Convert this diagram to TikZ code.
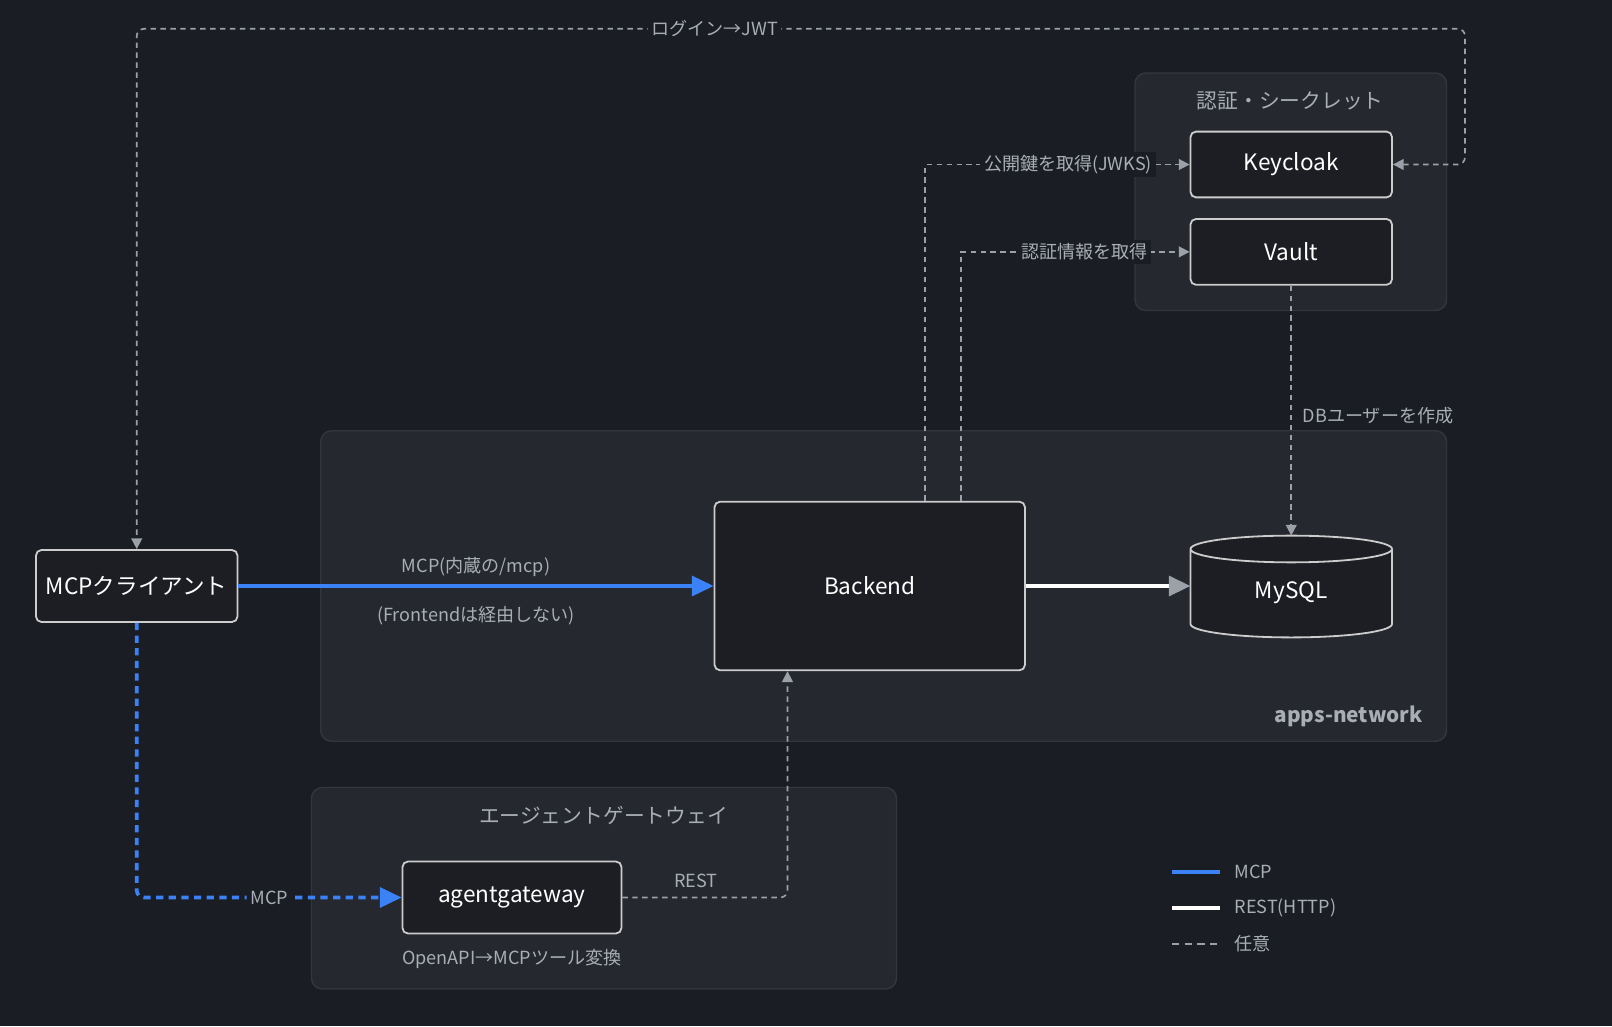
\documentclass[tikz,border=0pt]{standalone}
\usepackage{fontspec}
\setmainfont{Noto Sans CJK JP}
\usetikzlibrary{arrows.meta,positioning}
\definecolor{bgc}{HTML}{1A1D24}
\definecolor{panelc}{HTML}{25282F}
\definecolor{panelb}{HTML}{33363D}
\definecolor{nodec}{HTML}{1C1E24}
\definecolor{txtc}{HTML}{A9ADB5}
\definecolor{mcpc}{HTML}{3B82F6}
\definecolor{dashc}{HTML}{9CA0A8}
\tikzset{
  panel/.style={draw=panelb, fill=panelc, rounded corners=6pt, line width=0.8pt},
  box/.style={draw=white!80!black, fill=nodec, rounded corners=3pt, line width=1pt, text=white, font=\fontsize{12.5}{14}\selectfont},
  lbl/.style={text=txtc, font=\fontsize{10}{12}\selectfont, inner sep=2pt},
  ttl/.style={text=txtc, font=\fontsize{11.5}{13}\selectfont},
  opt/.style={draw=dashc, dash pattern=on 3pt off 2.5pt, line width=0.9pt, -{Triangle[length=6pt,width=6pt]}},
  mcp/.style={draw=mcpc, line width=2pt, -{Triangle[length=12pt,width=11pt]}},
}
\begin{document}
\begin{tikzpicture}[x=0.02cm, y=-0.02cm]
  \fill[bgc] (0,0) rectangle (1568,998);
  \useasboundingbox (0,0) rectangle (1568,998);
  % panels
  \draw[panel] (312,419) rectangle (1407,721);
  \node[ttl, font=\fontsize{11.5}{13}\selectfont\bfseries, anchor=east] (appsnet) at (1390,697) {apps-network};
  \draw[panel] (1104,71) rectangle (1407,302);
  \node[ttl] (authttl) at (1255,98) {認証・シークレット};
  \draw[panel] (303,766) rectangle (872,962);
  \node[ttl] (agwttl) at (587,793) {エージェントゲートウェイ};
  % nodes
  \node[box, minimum width=3.92cm, minimum height=1.4cm] (client) at (133,570) {MCPクライアント};
  \node[box, minimum width=6.04cm, minimum height=3.28cm] (backend) at (846,570) {Backend};
  \node[box, minimum width=3.92cm, minimum height=1.28cm] (keycloak) at (1256,160) {Keycloak};
  \node[box, minimum width=3.92cm, minimum height=1.28cm] (vault) at (1256,245) {Vault};
  \node[box, minimum width=4.26cm, minimum height=1.4cm] (agw) at (498,873) {agentgateway};
  \node[lbl] (agwnote) at (498,933) {OpenAPI→MCPツール変換};
  % MySQL cylinder
  \draw[white!80!black, fill=nodec, line width=1pt]
    (1158,534) -- (1158,607) arc[start angle=180, end angle=0, x radius=98, y radius=13]
    -- (1354,534) arc[start angle=0, end angle=-180, x radius=98, y radius=13]
    arc[start angle=180, end angle=0, x radius=98, y radius=13];
  \node[minimum width=3.92cm, minimum height=1.98cm] (mysql) at (1256,570) {};
  \node[text=white, font=\fontsize{12.5}{14}\selectfont] (mysqltxt) at (1256,577) {MySQL};
  % edges
  \draw[mcp] (client) -- (backend)
    node[lbl, midway, above=2pt] {MCP(内蔵の/mcp)}
    node[lbl, midway, below=8pt] {(Frontendは経由しない)};
  \draw[white, line width=2pt, -{Triangle[length=12pt,width=11pt,fill=dashc,color=dashc]}] (backend) -- (1158,570);
  \draw[opt] (vault) -- (1256,521) node[lbl, pos=0.52, right=4pt] {DBユーザーを作成};
  \draw[opt] (backend.north -| 900,0) |- (keycloak.west) node[lbl, pos=0.77, fill=bgc] {公開鍵を取得(JWKS)};
  \draw[opt] (backend.north -| 935,0) |- (vault.west) node[lbl, pos=0.77, fill=bgc] {認証情報を取得};
  \draw[opt, {Triangle[length=6pt,width=6pt]}-{Triangle[length=6pt,width=6pt]}, rounded corners=4pt]
    (keycloak.east) -- (1425,160) -- (1425,28) -- (133,28)
    node[lbl, pos=0.565, fill=bgc] {ログイン→JWT} -- (client.north);
  \draw[mcp, dash pattern=on 4pt off 3pt, rounded corners=4pt] (client.south) |- (agw.west)
    node[lbl, pos=0.75, fill=bgc] {MCP};
  \draw[opt, rounded corners=4pt] (agw.east) -| (backend.south -| 766,0);
  \node[lbl] (restlbl) at (677,857) {REST};
  % legend
  \coordinate (lg1a) at (1140,848); \coordinate (lg1b) at (1187,848);
  \coordinate (lg2a) at (1140,883); \coordinate (lg2b) at (1187,883);
  \coordinate (lg3a) at (1140,918); \coordinate (lg3b) at (1187,918);
  \draw[mcpc, line width=2pt] (lg1a) -- (lg1b);
  \draw[white, line width=2pt] (lg2a) -- (lg2b);
  \draw[dashc, line width=1pt, dash pattern=on 4pt off 3pt] (lg3a) -- (lg3b);
  \node[lbl, anchor=west] (lgt1) at (1197,848) {MCP};
  \node[lbl, anchor=west] (lgt2) at (1197,883) {REST(HTTP)};
  \node[lbl, anchor=west] (lgt3) at (1197,918) {任意};
\end{tikzpicture}
\end{document}
